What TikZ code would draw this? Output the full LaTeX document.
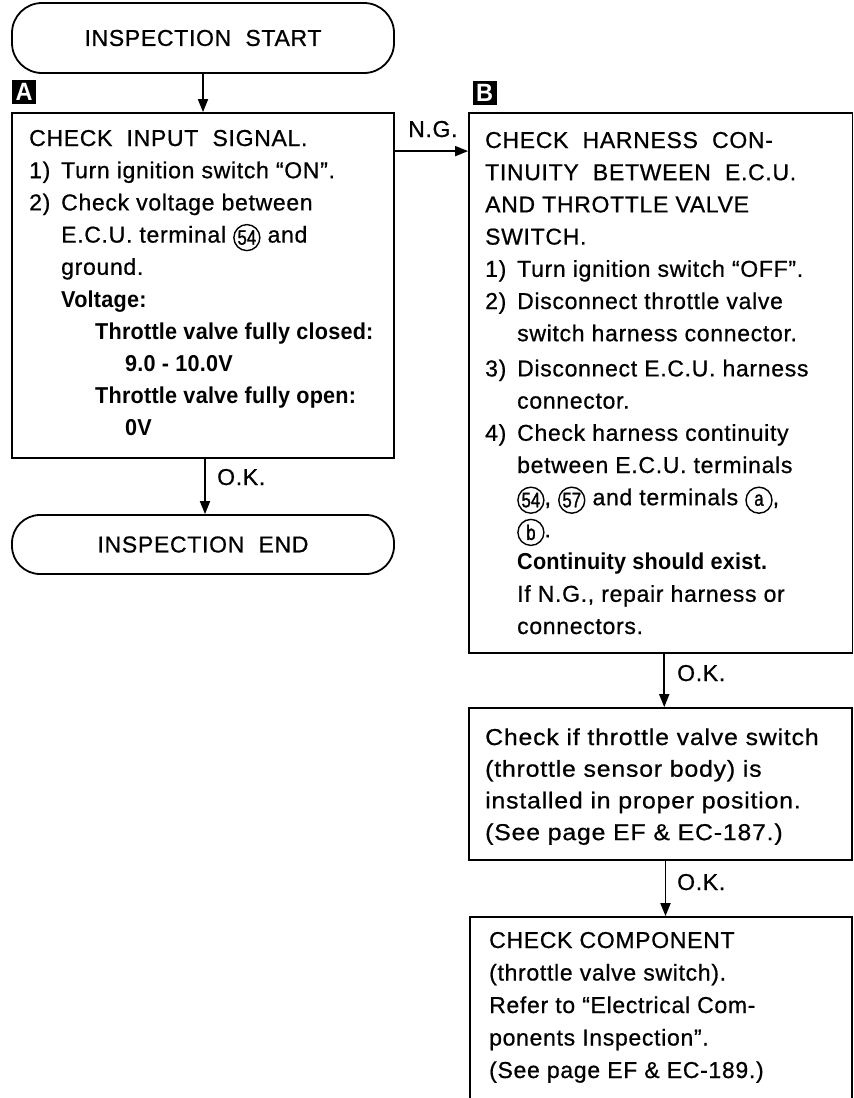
\documentclass[tikz,border=0pt]{standalone}
\usepackage{fontspec}
\usepackage{graphicx}
\setmainfont{Liberation Sans}[FakeStretch=1.0, LetterSpace=3, FakeBold=0.7,
  BoldFeatures={FakeStretch=0.94, LetterSpace=1, FakeBold=0}]
\newfontfamily\widefont{Liberation Sans}[FakeStretch=1.08, LetterSpace=3.5, FakeBold=0.7]
\newfontfamily\digitfont{Liberation Sans}[FakeStretch=0.8, FakeBold=1.2]
\usetikzlibrary{arrows.meta}
\newcommand{\txtfont}{\fontsize{23}{32.2}\selectfont}
\newcommand{\nm}[1]{\makebox[32pt][l]{#1}}
\newcommand{\ind}{\hspace*{32pt}}
\newcommand{\cnum}[1]{\tikz[baseline={([yshift=-5pt]cn.center)}]\node[draw,circle,line width=1.4pt,inner sep=0pt,minimum size=26pt](cn){\digitfont\fontsize{21}{21}\selectfont #1};}
\tikzset{
  box/.style={draw, line width=1.8pt, rectangle, inner sep=0pt},
  term/.style={draw, line width=1.8pt, rectangle, rounded corners=30pt, inner sep=0pt, font=\txtfont},
  arr/.style={line width=1.8pt, -{Triangle[length=13pt,width=10pt]}},
  txt/.style={anchor=base west, inner sep=0pt, font=\txtfont},
  tag/.style={fill=black, text=white, minimum size=24pt, inner sep=0pt, font=\fontsize{25}{25}\selectfont\bfseries}
}
\begin{document}
\begin{tikzpicture}[x=1pt,y=-1pt]
\useasboundingbox (0,0) rectangle (854,1098);
\fill[white] (0,0) rectangle (854,1098);
\clip (0,0) rectangle (854,1098);

% terminals and boxes
\node[term, minimum width=382pt, minimum height=70pt] (start) at (203,38) {INSPECTION\ \ START};
\node[box, minimum width=382pt, minimum height=345pt] (A) at (203,285.5) {};
\node[term, minimum width=382pt, minimum height=59pt, rounded corners=28pt] (stop) at (203,544.5) {INSPECTION\ \ END};
\node[box, minimum width=383.5pt, minimum height=540pt] (B) at (660.75,383) {};
\node[box, minimum width=383pt, minimum height=152pt] (C) at (660.5,784) {};
\node[box, minimum width=382pt, minimum height=183pt] (D) at (661,1008.5) {};

% tags
\node[tag] (tagA) at (24,92) {A};
\node[tag] (tagB) at (484.5,92.5) {B};

% texts
\node[txt] (tA) at (29,146) {\parbox[t]{500pt}{\raggedright
CHECK\ \ INPUT\ \ SIGNAL.\\
\nm{1)}Turn ignition switch “ON”.\\
\nm{2)}Check voltage between\\
\ind E.C.U. terminal \cnum{54} and\\
\ind ground.\\
\ind\textbf{Voltage:}\\
\hspace*{66pt}\textbf{Throttle valve fully closed:}\\
\hspace*{96pt}\textbf{9.0 - 10.0V}\\
\hspace*{66pt}\textbf{Throttle valve fully open:}\\
\hspace*{96pt}\textbf{0V}}};

\node[txt] (tB) at (485,148) {\parbox[t]{500pt}{\raggedright
CHECK\ \ HARNESS\ \ CON-\\
TINUITY\ \ BETWEEN\ \ E.C.U.\\
AND THROTTLE VALVE\\
SWITCH.\\
\nm{1)}Turn ignition switch “OFF”.\\
\nm{2)}Disconnect throttle valve\\
\ind switch harness connector.\\[3pt]
\nm{3)}Disconnect E.C.U. harness\\
\ind connector.\\
\nm{4)}Check harness continuity\\
\ind between E.C.U. terminals\\
\ind\cnum{54}, \cnum{57} and terminals \cnum{a},\\
\ind\cnum{b}.\\
\ind\textbf{Continuity should exist.}\\
\ind If N.G., repair harness or\\
\ind connectors.}};

\node[txt] (tC) at (485,745) {\parbox[t]{500pt}{\raggedright\widefont\fontsize{23}{31.7}\selectfont
Check if throttle valve switch\\
(throttle sensor body) is\\
installed in proper position.\\
(See page EF \& EC-187.)}};

\node[txt] (tD) at (489,948) {\parbox[t]{500pt}{\raggedright\fontsize{23}{32.5}\selectfont
CHECK COMPONENT\\
(throttle valve switch).\\
Refer to “Electrical Com-\\
ponents Inspection”.\\
(See page EF \& EC-189.)}};

% connectors
\draw[arr] (start.south) -- (A.north);
\draw[arr] ([xshift=2pt]A.south) -- ([xshift=2pt]A.south |- stop.north);
\draw[arr] ([yshift=-39pt]A.north east) -- ([yshift=-39pt]B.north west);
\draw[arr] ([xshift=3.5pt]B.south) -- ([xshift=3.5pt]B.south |- C.north);
\draw[arr] ([xshift=5pt]C.south) -- ([xshift=5pt]C.south |- D.north);

% connector labels
\node[txt] (ng) at (408,137) {N.G.};
\node[txt] (ok1) at (217,485) {O.K.};
\node[txt] (ok2) at (677,681) {O.K.};
\node[txt] (ok3) at (677,890) {O.K.};
\end{tikzpicture}
\end{document}
